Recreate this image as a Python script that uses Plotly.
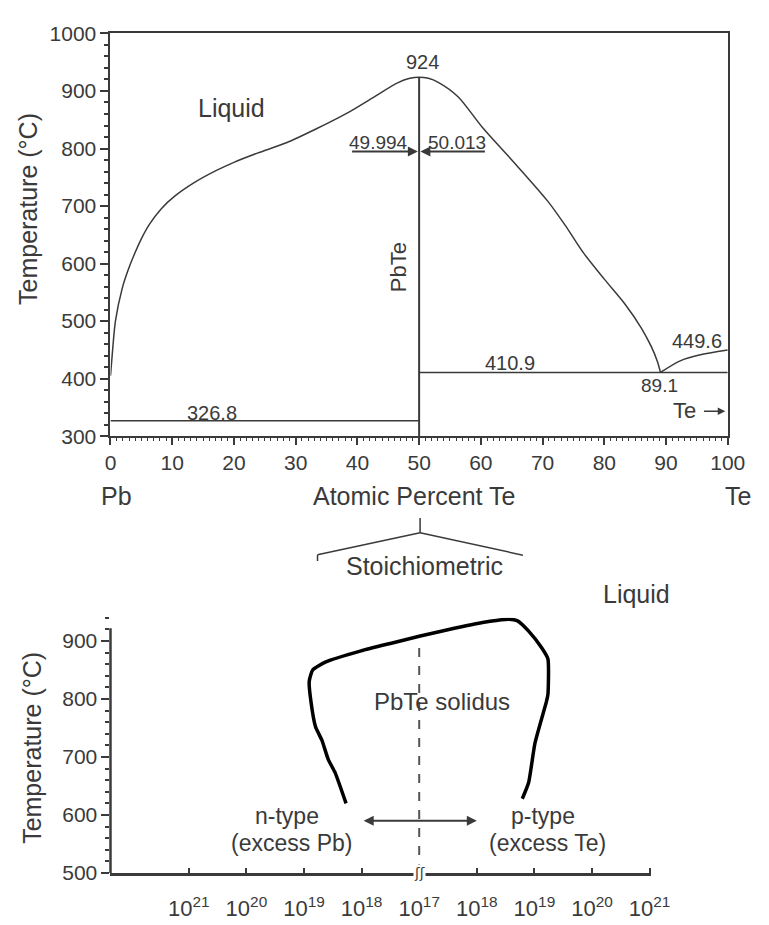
import plotly.graph_objects as go

# ---------------- data (top: Pb-Te phase diagram) ----------------
liquidus_x = [0, 0.3, 0.8, 1.9, 2.9, 3.9, 5.0, 6.3, 8.2, 10.5, 13.3, 17.0, 20.0, 23.8, 28.5, 33.2, 38.4, 42.6,
              46.5, 48.5, 50.0, 51.5, 53.1, 56.3, 60.3, 65.7, 70.8, 73.7, 76.6, 80.0, 83.4, 86.0, 87.6, 88.6, 89.1]
liquidus_t = [405, 444, 500, 557, 590, 617, 643, 668, 695, 718, 739, 761, 776, 792, 810, 833.5, 862, 889,
              914, 922, 924, 922, 915, 890, 836, 772, 709, 666, 619, 573, 529, 488, 456, 430, 410.9]
te_side_x = [89.1, 92.3, 95.4, 100]
te_side_t = [410.9, 431, 441, 449.6]
eutectic_pb_t = 326.8
eutectic_te_t = 410.9
congruent_t = 924
pbte_x = 50
arrow_t = 795
left_limit_x = 38.9
right_limit_x = 60.9

# ---------------- data (bottom: PbTe solidus) ----------------
# x positions are decades away from stoichiometry (10^17 at 0)
sol_x = [-1.27, -1.46, -1.58, -1.69, -1.80, -1.88, -1.91, -1.85, -1.62, -1.01, -0.45, 0.0, 0.61, 1.23, 1.56, 1.70, 1.90, 2.12, 2.235, 2.235, 2.21, 2.01, 1.90, 1.79]
sol_t = [620, 673, 696, 729, 752, 796, 830, 850, 864, 883, 897, 908, 922, 934, 937.5, 935, 917, 889, 869, 808, 796, 724, 656, 628]
bot_tickvals = [-4, -3, -2, -1, 0, 1, 2, 3, 4]
bot_ticktext = ["10<sup>21</sup>", "10<sup>20</sup>", "10<sup>19</sup>", "10<sup>18</sup>", "10<sup>17</sup>",
                "10<sup>18</sup>", "10<sup>19</sup>", "10<sup>20</sup>", "10<sup>21</sup>"]
arrow2_t = 590
arrow2_left = -0.99
arrow2_right = 1.0

W, H = 769, 925
LC = "#3a3a3a"
TC = "#3a3a3a"
FONT = "Liberation Sans, Arial, sans-serif"

fig = go.Figure()

line_style = dict(color=LC, width=1.5)
fig.add_trace(go.Scatter(x=liquidus_x, y=liquidus_t, mode="lines", line=dict(shape="spline", smoothing=0.8, **line_style), xaxis="x", yaxis="y", hoverinfo="skip"))
fig.add_trace(go.Scatter(x=te_side_x, y=te_side_t, mode="lines", line=dict(shape="spline", smoothing=0.8, **line_style), xaxis="x", yaxis="y", hoverinfo="skip"))
fig.add_trace(go.Scatter(x=[0, pbte_x], y=[eutectic_pb_t, eutectic_pb_t], mode="lines", line=line_style, xaxis="x", yaxis="y", hoverinfo="skip"))
fig.add_trace(go.Scatter(x=[pbte_x, 100], y=[eutectic_te_t, eutectic_te_t], mode="lines", line=line_style, xaxis="x", yaxis="y", hoverinfo="skip"))
fig.add_trace(go.Scatter(x=[pbte_x, pbte_x], y=[300, congruent_t], mode="lines", line=dict(color=LC, width=2), xaxis="x", yaxis="y", hoverinfo="skip"))

# bottom solidus
fig.add_trace(go.Scatter(x=sol_x, y=sol_t, mode="lines", line=dict(color="#000", width=3.5, shape="spline", smoothing=0.5),
                         xaxis="x2", yaxis="y2", hoverinfo="skip", cliponaxis=False))

ann = []
def txt(x, y, s, size=20, xref="x", yref="y", angle=0):
    ann.append(dict(x=x, y=y, text=s, xref=xref, yref=yref, showarrow=False, textangle=angle,
                    xanchor="center", yanchor="middle",
                    font=dict(size=size, color=TC, family=FONT)))

# top annotations
txt(19.6, 871, "Liquid", 25)
txt(50.5, 951, "924", 20)
txt(43.4, 811, "49.994", 19)
txt(56.2, 811, "50.013", 19)
txt(46.6, 594, "PbTe", 22, angle=-90)
txt(64.8, 427, "410.9", 20)
txt(95.1, 466, "449.6", 20)
txt(88.9, 388, "89.1", 19)
txt(16.5, 341, "326.8", 20)
txt(93.0, 344, "Te", 22)

# arrows at 795
for head, tail in [(49.8, left_limit_x), (50.2, right_limit_x)]:
    ann.append(dict(x=head, y=arrow_t, ax=tail, ay=arrow_t, xref="x", yref="y", axref="x", ayref="y",
                    showarrow=True, arrowhead=2, arrowsize=1, arrowwidth=2, arrowcolor=LC, text=""))
ann.append(dict(x=99.6, y=343.5, ax=95.9, ay=343.5, xref="x", yref="y", axref="x", ayref="y",
                showarrow=True, arrowhead=2, arrowsize=1, arrowwidth=1.5, arrowcolor=LC, text=""))

# top axis texts
txt(113.8 / W, 1 - 496.7 / H, "Pb", 25, xref="paper", yref="paper")
txt(421.6 / W, 1 - 496.7 / H, "Atomic Percent Te", 25, xref="paper", yref="paper")
txt(757.0 / W, 1 - 496.7 / H, "Te", 25, xref="paper", yref="paper")
txt(23.3 / W, 1 - 202.5 / H, "Temperature (°C)", 25, xref="paper", yref="paper", angle=-90)
txt(432.4 / W, 1 - 568.3 / H, "Stoichiometric", 25, xref="paper", yref="paper")

# bottom annotations
txt(27.0 / W, 1 - 754.5 / H, "Temperature (°C)", 25, xref="paper", yref="paper", angle=-90)
txt(651.7 / W, 1 - 596.7 / H, "Liquid", 25, xref="paper", yref="paper")
txt(0.40, 796, "PbTe solidus", 24, xref="x2", yref="y2")
txt(-2.30, 598, "n-type", 23, xref="x2", yref="y2")
txt(-2.22, 551, "(excess Pb)", 23, xref="x2", yref="y2")
txt(2.15, 598, "p-type", 23, xref="x2", yref="y2")
txt(2.235, 551, "(excess Te)", 23, xref="x2", yref="y2")
ann.append(dict(x=0, y=500, xref="x2", yref="y2", text="ʃʃ", showarrow=False, xanchor="center", yanchor="middle",
                font=dict(size=14, color=LC, family="DejaVu Sans"), bgcolor="white", borderpad=0))
ann.append(dict(x=arrow2_right, y=arrow2_t, ax=arrow2_left, ay=arrow2_t, xref="x2", yref="y2", axref="x2", ayref="y2",
                showarrow=True, arrowhead=2, arrowside="end+start", arrowsize=1, arrowwidth=2, arrowcolor=LC, text=""))

shapes = [
    # dashed stoichiometric line
    dict(type="line", xref="x2", yref="y2", x0=0, x1=0, y0=500, y1=895, line=dict(color="#555", width=2, dash="dash")),
    # bottom y axis line (shorter than the plotting range)
    dict(type="line", xref="x2 domain", yref="y2", x0=0, x1=0, y0=500, y1=922, line=dict(color=LC, width=2.5)),
    # bracket below top x axis
    dict(type="line", xref="paper", yref="paper", x0=428 / W, x1=428 / W, y0=1 - 519 / H, y1=1 - 534 / H, line=dict(color=LC, width=1.5)),
    dict(type="line", xref="paper", yref="paper", x0=428 / W, x1=322 / W, y0=1 - 534 / H, y1=1 - 556.7 / H, line=dict(color=LC, width=1.5)),
    dict(type="line", xref="paper", yref="paper", x0=322 / W, x1=322 / W, y0=1 - 556.7 / H, y1=1 - 563 / H, line=dict(color=LC, width=1.5)),
    dict(type="line", xref="paper", yref="paper", x0=428 / W, x1=534.3 / W, y0=1 - 534 / H, y1=1 - 557 / H, line=dict(color=LC, width=1.5)),
]

axis_common = dict(showgrid=False, zeroline=False, linecolor=LC, tickcolor=LC)
tf = dict(size=21, color=TC, family=FONT)

fig.update_layout(
    width=W, height=H, margin=dict(l=0, r=0, t=0, b=0),
    paper_bgcolor="white", plot_bgcolor="white", showlegend=False,
    font=dict(family=FONT, color=TC),
    xaxis=dict(domain=[108 / W, 746 / W], range=[0, 100], anchor="y", tickvals=list(range(0, 101, 10)),
               showline=True, linewidth=2, mirror=True, ticks="outside", ticklen=7, tickwidth=2, tickfont=tf,
               minor=dict(dtick=1, ticks="outside", ticklen=3, tickcolor=LC, tickwidth=1), **axis_common),
    yaxis=dict(domain=[1 - 435 / H, 1 - 22 / H], range=[300, 1000], anchor="x", tickvals=list(range(300, 1001, 100)),
               showline=True, linewidth=2, mirror=True, ticks="outside", ticklen=8, tickwidth=2, tickfont=tf,
               minor=dict(dtick=20, ticks="outside", ticklen=4, tickcolor=LC, tickwidth=1.5), **axis_common),
    xaxis2=dict(domain=[108 / W, 667 / W], range=[-5.36, 4.03], anchor="y2", tickvals=bot_tickvals, ticktext=bot_ticktext,
                showline=True, linewidth=2.5, ticks="inside", ticklen=5, tickwidth=1.5,
                tickfont=dict(size=22, color=TC, family=FONT), ticklabelstandoff=14, **axis_common),
    yaxis2=dict(domain=[1 - 883 / H, 1 - 621.2 / H], range=[500, 940], anchor="x2", tickvals=list(range(500, 901, 100)),
                showline=False, ticks="outside", ticklen=8, tickwidth=2, tickfont=tf,
                minor=dict(dtick=20, ticks="outside", ticklen=4, tickcolor=LC, tickwidth=1.5), **axis_common),
    annotations=ann, shapes=shapes,
)

fig.write_html("out.html")
